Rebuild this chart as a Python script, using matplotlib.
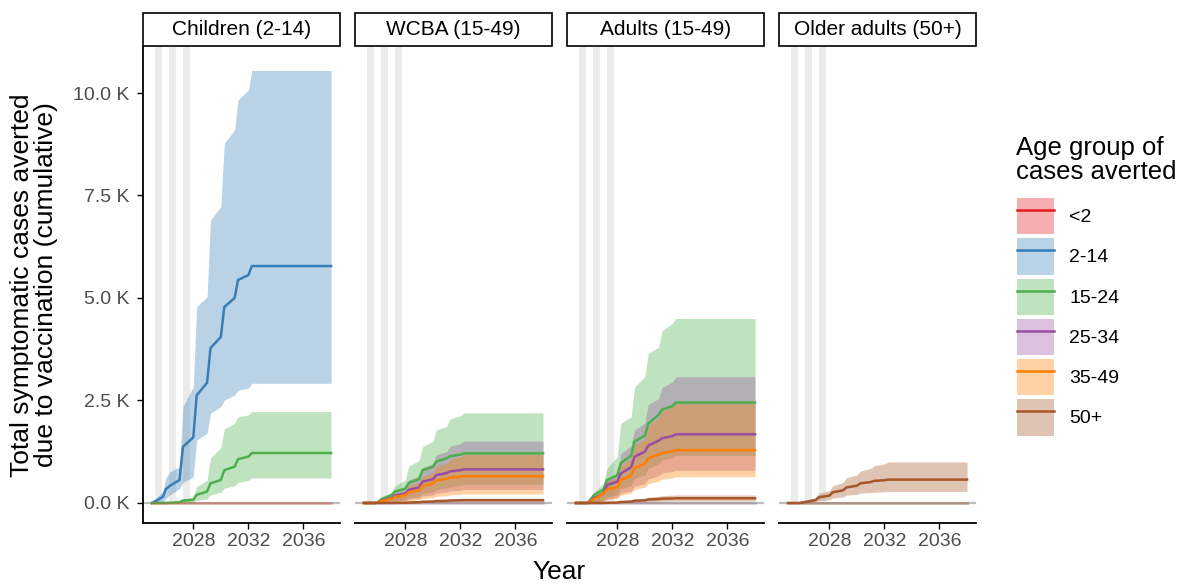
import matplotlib.pyplot as plt
from matplotlib.patches import Patch, Rectangle
from matplotlib.lines import Line2D
from matplotlib.legend_handler import HandlerTuple

plt.rcParams['font.family'] = ['Liberation Sans', 'DejaVu Sans']

# eje temporal comun (años)
years = [2025.0, 2025.8, 2026.0, 2026.3, 2027.0, 2027.25, 2028.0, 2028.25, 2029.0,
         2029.25, 2030.0, 2030.25, 2031.0, 2031.25, 2032.0, 2032.25, 2038.0]
zeros = [0] * len(years)

groups = ['<2', '2-14', '15-24', '25-34', '35-49', '50+']
colors = ['#E41A1C', '#377EB8', '#4DAF4A', '#984EA3', '#FF7F00', '#A65628']
panel_titles = ['Children (2-14)', 'WCBA (15-49)', 'Adults (15-49)', 'Older adults (50+)']

# periodos de campaña (bandas grises)
campaign_start = [2025.25, 2026.25, 2027.25]
campaign_end = [2025.75, 2026.75, 2027.75]

# --- Children (2-14)
ch_214_med = [0, 150, 330, 420, 560, 1370, 1600, 2630, 2930, 3780, 4050, 4780, 5000, 5440, 5560, 5780, 5780]
ch_214_lo = [0, 0, 100, 200, 350, 500, 640, 1540, 1700, 2190, 2350, 2510, 2630, 2750, 2800, 2920, 2920]
ch_214_hi = [0, 300, 600, 760, 885, 2350, 2840, 4790, 5030, 6900, 7230, 8770, 9100, 9830, 10070, 10550, 10550]
ch_1524_med = [0, 0, 0, 5, 20, 60, 80, 200, 280, 480, 560, 800, 885, 1070, 1130, 1220, 1220]
ch_1524_lo = [0, 0, 0, 0, 0, 10, 20, 60, 100, 200, 260, 360, 420, 500, 550, 610, 610]
ch_1524_hi = [0, 0, 0, 10, 30, 80, 150, 400, 560, 1100, 1350, 1800, 1950, 2100, 2150, 2230, 2230]

# --- WCBA (15-49)
wc_1524_med = [0, 0, 20, 100, 190, 280, 350, 490, 580, 800, 880, 1010, 1090, 1140, 1180, 1210, 1210]
wc_1524_lo = [0, 0, 0, 10, 25, 55, 75, 130, 160, 230, 260, 330, 360, 400, 420, 450, 450]
wc_1524_hi = [0, 0, 60, 150, 260, 420, 560, 900, 1030, 1380, 1500, 1780, 1870, 2050, 2130, 2200, 2200]
wc_2534_med = [0, 0, 10, 60, 120, 180, 230, 320, 380, 520, 580, 680, 730, 770, 800, 820, 820]
wc_2534_lo = [0, 0, 0, 5, 15, 40, 55, 95, 115, 170, 190, 240, 265, 295, 310, 330, 330]
wc_2534_hi = [0, 0, 30, 100, 180, 290, 360, 560, 660, 860, 960, 1180, 1250, 1380, 1450, 1510, 1510]
wc_3549_med = [0, 0, 10, 50, 100, 150, 190, 260, 310, 420, 470, 550, 590, 620, 640, 655, 655]
wc_3549_lo = [0, 0, 0, 5, 10, 25, 35, 60, 75, 110, 125, 160, 175, 195, 205, 220, 220]
wc_3549_hi = [0, 0, 20, 70, 140, 220, 280, 420, 500, 660, 730, 900, 960, 1060, 1120, 1180, 1180]
wc_50_med = [0, 0, 0, 0, 0, 2, 5, 12, 18, 30, 36, 48, 54, 62, 66, 70, 70]
wc_50_lo = [0, 0, 0, 0, 0, 1, 2, 5, 7, 12, 15, 20, 23, 26, 28, 30, 30]
wc_50_hi = [0, 0, 0, 0, 0, 4, 8, 18, 26, 45, 52, 70, 78, 90, 95, 100, 100]

# --- Adults (15-49)
ad_1524_med = [0, 0, 60, 190, 330, 560, 680, 970, 1150, 1500, 1640, 1940, 2150, 2280, 2360, 2450, 2450]
ad_1524_lo = [0, 0, 0, 20, 60, 150, 200, 350, 420, 600, 680, 850, 950, 1050, 1100, 1160, 1160]
ad_1524_hi = [0, 0, 120, 260, 480, 850, 1130, 1940, 2100, 2830, 3080, 3650, 3800, 4200, 4380, 4500, 4500]
ad_2534_med = [0, 0, 30, 120, 230, 440, 520, 720, 870, 1130, 1250, 1400, 1520, 1580, 1630, 1675, 1675]
ad_2534_lo = [0, 0, 0, 10, 40, 100, 140, 240, 290, 410, 470, 590, 660, 730, 770, 800, 800]
ad_2534_hi = [0, 0, 60, 160, 340, 560, 700, 1200, 1400, 1780, 1950, 2400, 2550, 2820, 2950, 3080, 3080]
ad_3549_med = [0, 0, 20, 90, 230, 330, 380, 560, 660, 850, 960, 1090, 1180, 1220, 1260, 1290, 1290]
ad_3549_lo = [0, 0, 0, 10, 30, 80, 110, 190, 240, 330, 380, 470, 530, 580, 610, 640, 640]
ad_3549_hi = [0, 0, 50, 170, 300, 520, 620, 920, 1080, 1420, 1560, 1880, 2080, 2230, 2330, 2420, 2420]
ad_50_med = [0, 0, 0, 0, 0, 5, 10, 25, 35, 55, 65, 85, 95, 105, 110, 115, 115]
ad_50_lo = [0, 0, 0, 0, 0, 0, 3, 8, 12, 20, 25, 32, 38, 43, 47, 50, 50]
ad_50_hi = [0, 0, 0, 0, 0, 10, 20, 45, 60, 95, 115, 145, 160, 180, 190, 195, 195]

# --- Older adults (50+)
old_50_med = [0, 0, 10, 30, 70, 140, 180, 260, 310, 380, 420, 480, 510, 540, 555, 570, 570]
old_50_lo = [0, 0, 0, 10, 30, 60, 80, 120, 150, 190, 210, 240, 255, 265, 272, 280, 280]
old_50_hi = [0, 0, 20, 60, 130, 240, 300, 420, 500, 620, 680, 780, 840, 910, 950, 1000, 1000]

# tabla por panel: grupo -> (mediana, inferior, superior)
panels = [
    {'2-14': (ch_214_med, ch_214_lo, ch_214_hi),
     '15-24': (ch_1524_med, ch_1524_lo, ch_1524_hi)},
    {'15-24': (wc_1524_med, wc_1524_lo, wc_1524_hi),
     '25-34': (wc_2534_med, wc_2534_lo, wc_2534_hi),
     '35-49': (wc_3549_med, wc_3549_lo, wc_3549_hi),
     '50+': (wc_50_med, wc_50_lo, wc_50_hi)},
    {'15-24': (ad_1524_med, ad_1524_lo, ad_1524_hi),
     '25-34': (ad_2534_med, ad_2534_lo, ad_2534_hi),
     '35-49': (ad_3549_med, ad_3549_lo, ad_3549_hi),
     '50+': (ad_50_med, ad_50_lo, ad_50_hi)},
    {'50+': (old_50_med, old_50_lo, old_50_hi)},
]

W, H = 1185, 586
fig = plt.figure(figsize=(W / 100, H / 100), dpi=100)

panel_left = [143, 355, 567, 779]
panel_w = 197
panel_top, panel_bottom = 47, 523
ylim = (-488, 11122)

for i, data in enumerate(panels):
    ax = fig.add_axes([panel_left[i] / W, (H - panel_bottom) / H, panel_w / W, (panel_bottom - panel_top) / H])

    for a, b in zip(campaign_start, campaign_end):
        ax.fill_between([a, b], 0, ylim[1], color='#EBEBEB', lw=0, zorder=0)
    ax.axhline(0, color='#BDBDBD', lw=1.6, zorder=1)

    # cintas primero, luego lineas
    for g, c in zip(groups, colors):
        if g in data:
            med, lo, hi = data[g]
            ax.fill_between(years, lo, hi, color=c, alpha=0.35, lw=0, zorder=2)
    for g, c in zip(groups, colors):
        if g in data:
            ax.plot(years, data[g][0], color=c, lw=1.8, zorder=3)
        else:
            ax.plot(years, zeros, color=c, lw=1.8, alpha=0.15, zorder=3)

    ax.set_xlim(2024.35, 2038.65)
    ax.set_ylim(*ylim)
    ax.set_xticks([2028, 2032, 2036])
    ax.tick_params(axis='x', labelsize=14, labelcolor='#4D4D4D', length=4, width=1, pad=3)
    for s in ['top', 'right']:
        ax.spines[s].set_visible(False)
    ax.spines['bottom'].set_linewidth(1.3)
    if i == 0:
        ax.spines['left'].set_linewidth(1.3)
        ax.set_yticks([0, 2500, 5000, 7500, 10000])
        ax.set_yticklabels(['0.0 K', '2.5 K', '5.0 K', '7.5 K', '10.0 K'])
        ax.tick_params(axis='y', labelsize=14, labelcolor='#4D4D4D', length=4, width=1, pad=6)
    else:
        ax.spines['left'].set_visible(False)
        ax.set_yticks([])

    # cabecera del panel
    fig.add_artist(Rectangle((panel_left[i] / W, (H - 46) / H), panel_w / W, 33 / H,
                             transform=fig.transFigure, facecolor='white', edgecolor='black', lw=1.2))
    fig.text((panel_left[i] + panel_w / 2) / W, (H - 29.5) / H, panel_titles[i],
             ha='center', va='center', fontsize=15)

fig.text(34 / W, (H - 285) / H, 'Total symptomatic cases averted\ndue to vaccination (cumulative)',
         rotation=90, ha='center', va='center', fontsize=19, multialignment='center', linespacing=1.05)
fig.text(559 / W, (H - 572) / H, 'Year', ha='center', va='center', fontsize=19)

# leyenda
fig.text(1016 / W, (H - 136) / H, 'Age group of\ncases averted', ha='left', va='top',
         fontsize=18.5, linespacing=1.0)
handles = [(Patch(facecolor=c, alpha=0.35, edgecolor='none'), Line2D([], [], color=c, lw=1.8)) for c in colors]
fig.legend(handles, groups, loc='upper left', bbox_to_anchor=(1017 / W, (H - 198) / H),
           fontsize=14, frameon=False, borderpad=0, borderaxespad=0,
           handler_map={tuple: HandlerTuple(ndivide=1)},
           handlelength=1.9, handleheight=2.5, labelspacing=0.2, handletextpad=0.8)

plt.savefig('out.png', dpi=100)
